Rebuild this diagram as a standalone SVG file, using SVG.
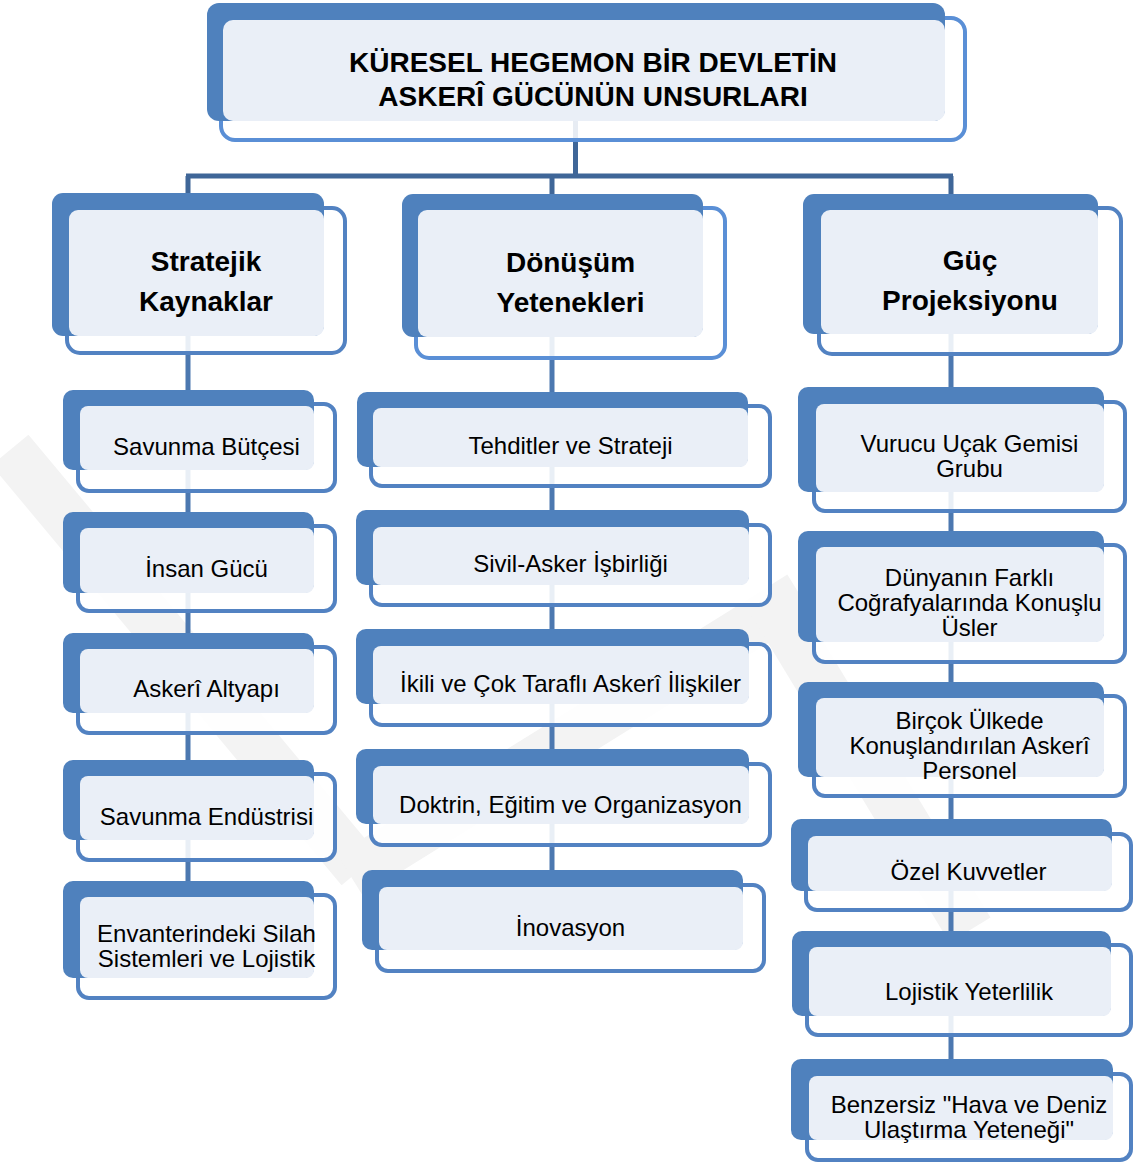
<svg xmlns="http://www.w3.org/2000/svg" width="1138" height="1164" viewBox="0 0 1138 1164">
<style>
  .wm{stroke:#f3f3f3;stroke-width:48;stroke-linecap:butt;fill:none}
  .front{fill:#ffffff;fill-opacity:0.88;stroke:#5282c2;stroke-width:4}
  .front.hi{stroke:#5a8fd6}
  .back{fill:#4f81bd}
  .hl{fill:#eaeff7}
  .top{stroke:#3f6698;stroke-width:5;fill:none}
  .col{stroke:#4c78b0;stroke-width:5;fill:none}
  text{font-family:"Liberation Sans",Arial,Helvetica,sans-serif;fill:#000;text-anchor:middle}
  .h{font-size:28px;font-weight:bold}
  .t{font-size:24px}
</style>
<rect x="0" y="0" width="1138" height="1164" fill="#ffffff"/>
<g id="watermark">
  <line class="wm" x1="10" y1="450" x2="360" y2="870"/>
  <line class="wm" x1="800" y1="595" x2="350" y2="875"/>
  <line class="wm" x1="770" y1="600" x2="970" y2="930"/>
</g>
<g id="connectors">
  <path class="top" d="M575.5 121 V176 M186 176 H953 M188 176 V194 M552 176 V194 M951 176 V194"/>
  <path class="col" d="M188 194 V881 M552 194 V870 M951 194 V1059"/>
</g>

<g id="title">
  <rect class="front hi" x="221" y="18" width="744" height="122" rx="14"/>
  <rect class="back" x="207" y="3" width="738" height="118" rx="12"/>
  <rect class="hl" x="223" y="20" width="722" height="101" rx="10"/>
  <text class="h" x="593" y="72">KÜRESEL HEGEMON BİR DEVLETİN</text>
  <text class="h" x="593" y="106">ASKERÎ GÜCÜNÜN UNSURLARI</text>
</g>

<g id="stratejik">
  <rect class="front" x="67" y="208" width="278" height="145" rx="13"/>
  <rect class="back" x="52" y="193" width="272" height="143" rx="11"/>
  <rect class="hl" x="69" y="210" width="255" height="126" rx="9"/>
  <text class="h" x="206" y="271">Stratejik</text>
  <text class="h" x="206" y="311">Kaynaklar</text>
</g>
<g id="savunma-butcesi">
  <rect class="front" x="78" y="404" width="257" height="87" rx="11"/>
  <rect class="back" x="63" y="390" width="251" height="80" rx="10"/>
  <rect class="hl" x="80" y="406" width="234" height="64" rx="8"/>
  <text class="t" x="206.5" y="455">Savunma Bütçesi</text>
</g>
<g id="insan-gucu">
  <rect class="front" x="78" y="526" width="257" height="85" rx="11"/>
  <rect class="back" x="63" y="512" width="251" height="81" rx="10"/>
  <rect class="hl" x="80" y="528" width="234" height="65" rx="8"/>
  <text class="t" x="206.5" y="577">İnsan Gücü</text>
</g>
<g id="askeri-altyapi">
  <rect class="front" x="78" y="647" width="257" height="86" rx="11"/>
  <rect class="back" x="63" y="633" width="251" height="80" rx="10"/>
  <rect class="hl" x="80" y="649" width="234" height="64" rx="8"/>
  <text class="t" x="206.5" y="697">Askerî Altyapı</text>
</g>
<g id="savunma-endustrisi">
  <rect class="front" x="78" y="774" width="257" height="86" rx="11"/>
  <rect class="back" x="63" y="760" width="251" height="80" rx="10"/>
  <rect class="hl" x="80" y="776" width="234" height="64" rx="8"/>
  <text class="t" x="206.5" y="825">Savunma Endüstrisi</text>
</g>
<g id="envanter">
  <rect class="front" x="78" y="895" width="257" height="103" rx="11"/>
  <rect class="back" x="63" y="881" width="251" height="97" rx="10"/>
  <rect class="hl" x="80" y="897" width="234" height="81" rx="8"/>
  <text class="t" x="206.5" y="942">Envanterindeki Silah</text>
  <text class="t" x="206.5" y="967">Sistemleri ve Lojistik</text>
</g>

<g id="donusum">
  <rect class="front hi" x="416" y="208" width="309" height="150" rx="13"/>
  <rect class="back" x="402" y="194" width="301" height="143" rx="11"/>
  <rect class="hl" x="418" y="210" width="285" height="127" rx="9"/>
  <text class="h" x="570.5" y="272">Dönüşüm</text>
  <text class="h" x="570.5" y="312">Yetenekleri</text>
</g>
<g id="tehditler">
  <rect class="front" x="371" y="406" width="399" height="80" rx="11"/>
  <rect class="back" x="357" y="392" width="391" height="75" rx="10"/>
  <rect class="hl" x="373" y="408" width="375" height="59" rx="8"/>
  <text class="t" x="570.5" y="454">Tehditler ve Strateji</text>
</g>
<g id="sivil-asker">
  <rect class="front" x="371" y="525" width="399" height="80" rx="11"/>
  <rect class="back" x="356" y="510" width="393" height="75" rx="10"/>
  <rect class="hl" x="373" y="527" width="376" height="58" rx="8"/>
  <text class="t" x="570.5" y="572">Sivil-Asker İşbirliği</text>
</g>
<g id="ikili">
  <rect class="front" x="371" y="644" width="399" height="81" rx="11"/>
  <rect class="back" x="356" y="629" width="393" height="75" rx="10"/>
  <rect class="hl" x="373" y="646" width="376" height="58" rx="8"/>
  <text class="t" x="570.5" y="692">İkili ve Çok Taraflı Askerî İlişkiler</text>
</g>
<g id="doktrin">
  <rect class="front" x="371" y="764" width="399" height="81" rx="11"/>
  <rect class="back" x="356" y="749" width="393" height="75" rx="10"/>
  <rect class="hl" x="373" y="766" width="376" height="58" rx="8"/>
  <text class="t" x="570.5" y="813">Doktrin, Eğitim ve Organizasyon</text>
</g>
<g id="inovasyon">
  <rect class="front" x="377" y="885" width="387" height="86" rx="11"/>
  <rect class="back" x="362" y="870" width="381" height="80" rx="10"/>
  <rect class="hl" x="379" y="887" width="364" height="63" rx="8"/>
  <text class="t" x="570.5" y="936">İnovasyon</text>
</g>

<g id="guc">
  <rect class="front" x="819" y="208" width="302" height="146" rx="13"/>
  <rect class="back" x="803" y="194" width="295" height="140" rx="11"/>
  <rect class="hl" x="821" y="210" width="277" height="124" rx="9"/>
  <text class="h" x="970" y="270">Güç</text>
  <text class="h" x="970" y="310">Projeksiyonu</text>
</g>
<g id="vurucu">
  <rect class="front" x="814" y="402" width="311" height="109" rx="11"/>
  <rect class="back" x="798" y="387" width="306" height="105" rx="10"/>
  <rect class="hl" x="816" y="404" width="288" height="88" rx="8"/>
  <text class="t" x="969.5" y="452">Vurucu Uçak Gemisi</text>
  <text class="t" x="969.5" y="477">Grubu</text>
</g>
<g id="dunyanin">
  <rect class="front" x="814" y="545" width="311" height="117" rx="11"/>
  <rect class="back" x="798" y="531" width="306" height="111" rx="10"/>
  <rect class="hl" x="816" y="547" width="288" height="95" rx="8"/>
  <text class="t" x="969.5" y="586">Dünyanın Farklı</text>
  <text class="t" x="969.5" y="611">Coğrafyalarında Konuşlu</text>
  <text class="t" x="969.5" y="636">Üsler</text>
</g>
<g id="bircok">
  <rect class="front" x="814" y="696" width="311" height="100" rx="11"/>
  <rect class="back" x="798" y="682" width="306" height="95" rx="10"/>
  <rect class="hl" x="816" y="698" width="288" height="79" rx="8"/>
  <text class="t" x="969.5" y="729">Birçok Ülkede</text>
  <text class="t" x="969.5" y="754">Konuşlandırılan Askerî</text>
  <text class="t" x="969.5" y="779">Personel</text>
</g>
<g id="ozel">
  <rect class="front" x="806" y="834" width="325" height="76" rx="11"/>
  <rect class="back" x="791" y="819" width="321" height="72" rx="10"/>
  <rect class="hl" x="808" y="836" width="304" height="55" rx="8"/>
  <text class="t" x="968.5" y="880">Özel Kuvvetler</text>
</g>
<g id="lojistik">
  <rect class="front" x="807" y="945" width="324" height="90" rx="11"/>
  <rect class="back" x="792" y="931" width="319" height="85" rx="10"/>
  <rect class="hl" x="809" y="947" width="302" height="69" rx="8"/>
  <text class="t" x="969" y="1000">Lojistik Yeterlilik</text>
</g>
<g id="benzersiz">
  <rect class="front" x="807" y="1074" width="324" height="86" rx="11"/>
  <rect class="back" x="791" y="1059" width="322" height="81" rx="10"/>
  <rect class="hl" x="809" y="1076" width="304" height="64" rx="8"/>
  <text class="t" x="969" y="1113">Benzersiz "Hava ve Deniz</text>
  <text class="t" x="969" y="1138">Ulaştırma Yeteneği"</text>
</g>
</svg>
